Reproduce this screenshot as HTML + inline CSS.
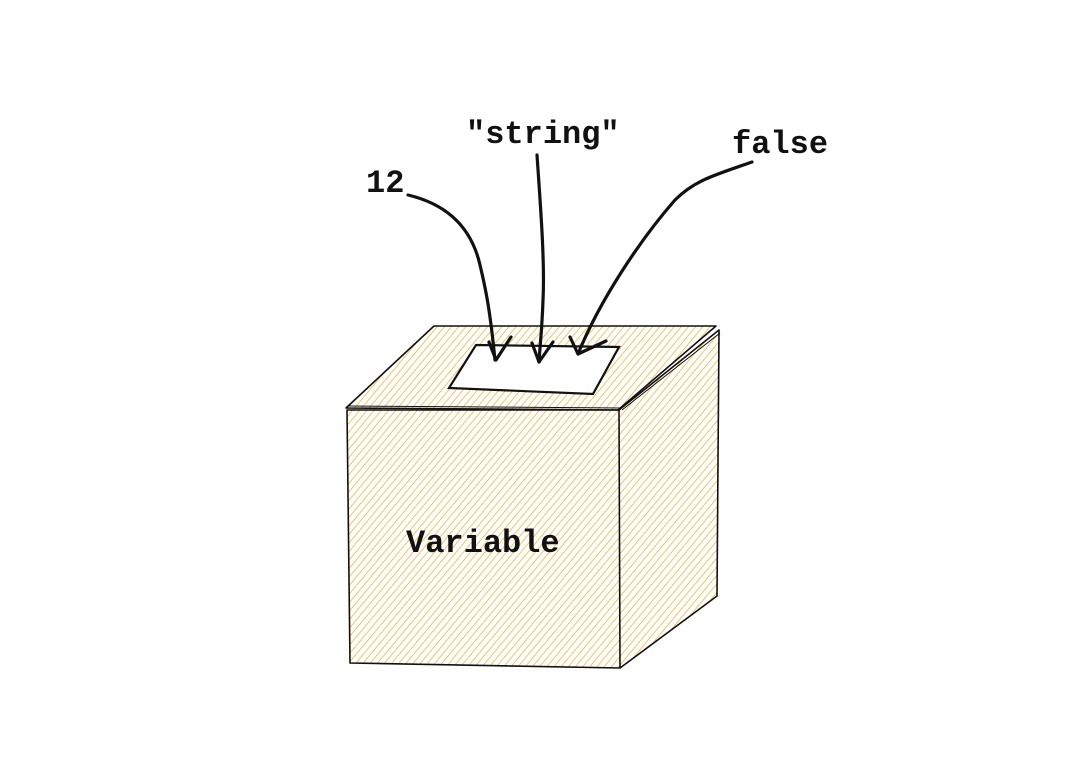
<!DOCTYPE html>
<html><head><meta charset="utf-8"><style>
html,body{margin:0;padding:0;background:#fff;}
svg{display:block}
text{font-family:"Liberation Mono",monospace;font-weight:bold;font-size:32px;fill:#111}
</style></head><body>
<svg width="1082" height="776" viewBox="0 0 1082 776" xmlns="http://www.w3.org/2000/svg">
<defs>
<pattern id="h" patternUnits="userSpaceOnUse" width="5.5" height="8" patternTransform="rotate(40)">
<line x1="0" y1="0" x2="0" y2="8" stroke="#f4b030" stroke-width="1.5"/>
</pattern>
</defs>
<rect width="1082" height="776" fill="#fff"/>
<polygon points="346,408 434,326 716,326 618,410" fill="url(#h)"/>
<polygon points="347,410 619,410 620,668 350,663" fill="url(#h)"/>
<polygon points="619,410 719,330 717,596 620,668" fill="url(#h)"/>
<g fill="none" stroke="#111" stroke-width="1.6" stroke-linejoin="round">
<polygon points="346,408 434,326 716,326 618,410"/>
<polygon points="347,410 619,410 620,668 350,663"/>
<path d="M619,410 L719,330 L717,596 L620,668"/>
<path d="M348,406 L620,408" stroke-width="1"/>
<path d="M622,410 L720,333" stroke-width="1"/>
</g>
<polygon points="476,345 619,347 593,394 449,388" fill="#fff" stroke="#111" stroke-width="2.2"/>
<g fill="none" stroke="#111" stroke-width="3.2" stroke-linecap="round" stroke-linejoin="round">
<path d="M408,195 C450,205 472,230 480,265 C486,290 490,310 495,360"/>
<path d="M489,342 L496,360 L511,337"/>
<path d="M537,155 C540,200 545,260 543,300 C542,330 540,345 539,362"/>
<path d="M532,343 L539,362 L553,342"/>
<path d="M752,162 C715,175 695,180 675,200 C640,240 600,300 578,354"/>
<path d="M570,337 L578,354 L606,341"/>
</g>
<text x="366" y="192">12</text>
<text x="466" y="143">"string"</text>
<text x="732" y="153">false</text>
<text x="406" y="552">Variable</text>
</svg>
</body></html>
